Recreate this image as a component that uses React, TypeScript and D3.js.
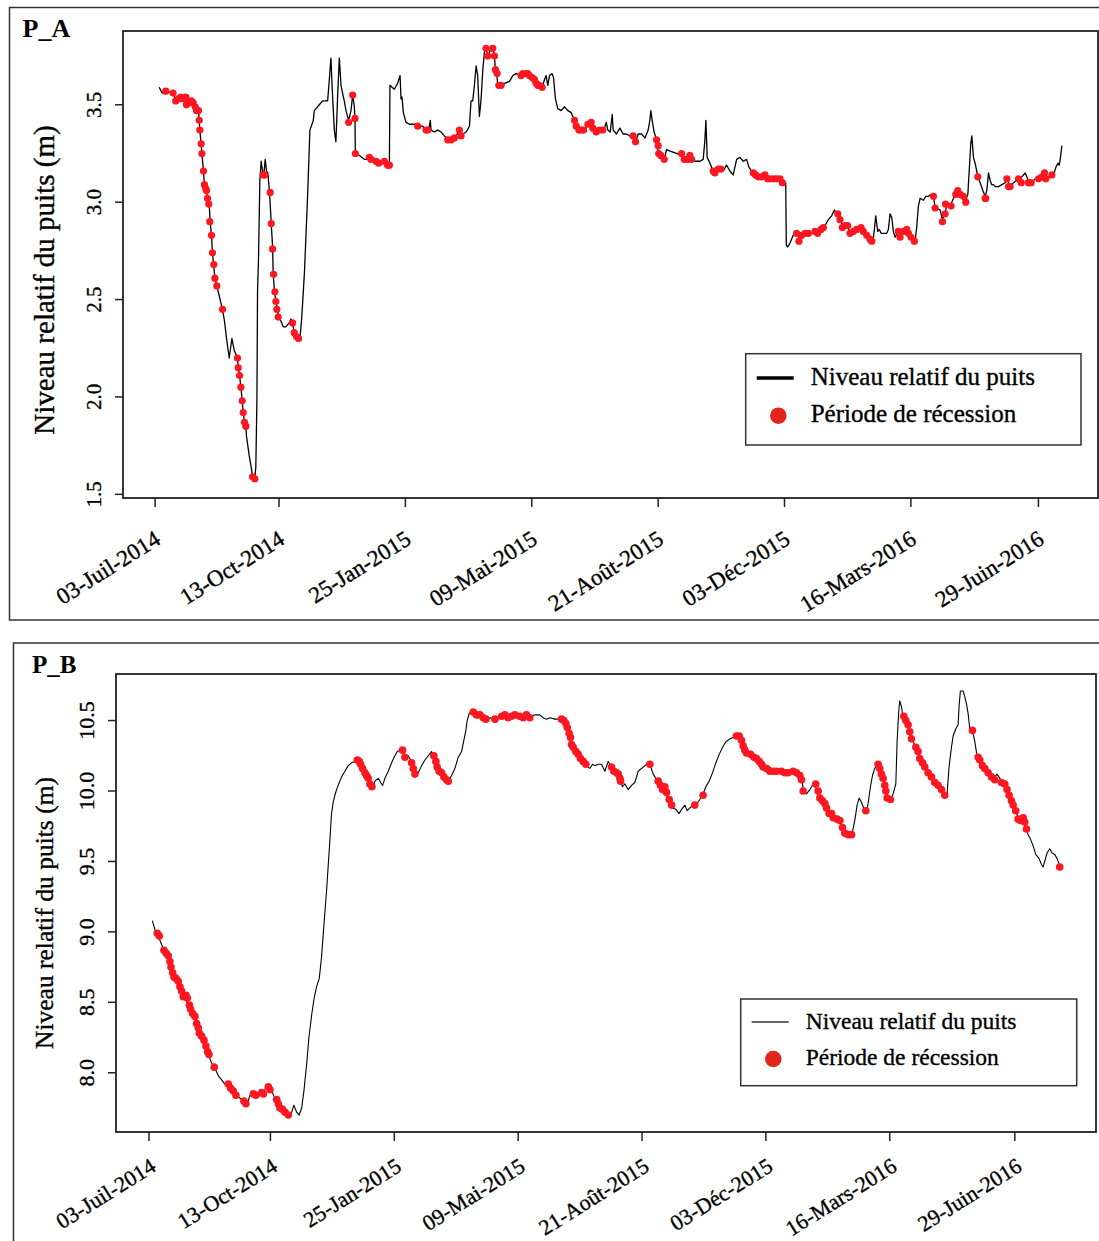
import React, { useRef, useEffect } from 'react';
import * as d3 from 'd3';

// [jours depuis le 03-Juil-2014, niveau relatif (m)]
type Pt = [number, number];

const startDate = '2014-07-03';

const tickDates = [
  '2014-07-03', '2014-10-13', '2015-01-25', '2015-05-09',
  '2015-08-21', '2015-12-03', '2016-03-16', '2016-06-29',
];
const tickLabels = [
  '03-Juil-2014', '13-Oct-2014', '25-Jan-2015', '09-Mai-2015',
  '21-Août-2015', '03-Déc-2015', '16-Mars-2016', '29-Juin-2016',
];
const legendLabels = ['Niveau relatif du puits', 'Période de récession'];
const yAxisTitle = 'Niveau relatif du puits (m)';

// P_A : niveau du puits
const levelA: Pt[] = [
  [3.3, 3.59], [6.0, 3.56], [8.8, 3.57], [14.3, 3.56], [17.0, 3.53], [21.1, 3.54], [25.3, 3.53], [28.0, 3.52],
  [30.8, 3.51], [33.5, 3.48], [35.7, 3.47], [36.3, 3.42], [36.8, 3.37], [37.9, 3.30], [38.5, 3.25], [39.8, 3.16],
  [40.6, 3.09], [42.3, 3.06], [43.1, 3.02], [44.5, 2.99], [45.3, 2.90], [46.4, 2.83], [47.2, 2.74], [48.3, 2.67],
  [49.2, 2.61], [50.8, 2.57], [52.7, 2.52], [55.5, 2.45], [57.1, 2.39], [58.8, 2.30], [61.0, 2.20], [63.2, 2.30],
  [65.1, 2.24], [67.8, 2.20], [68.4, 2.15], [69.5, 2.11], [70.6, 2.05], [71.7, 1.98], [72.5, 1.92], [73.6, 1.87],
  [74.7, 1.85], [75.2, 1.80], [77.4, 1.70], [79.1, 1.64], [80.2, 1.59], [81.8, 1.57], [82.9, 1.64], [83.8, 1.99],
  [84.3, 2.54], [85.1, 2.71], [86.2, 3.11], [87.3, 3.21], [88.4, 3.16], [89.5, 3.14], [90.6, 3.22], [91.7, 3.16],
  [92.8, 3.15], [94.2, 3.05], [95.6, 2.89], [96.7, 2.77], [97.2, 2.63], [98.3, 2.54], [99.4, 2.49], [100.8, 2.45],
  [101.6, 2.41], [103.5, 2.39], [105.5, 2.36], [107.6, 2.36], [110.4, 2.38], [111.8, 2.40], [113.1, 2.38], [114.5, 2.33],
  [115.9, 2.32], [118.1, 2.30], [119.2, 2.30], [120.6, 2.40], [121.7, 2.51], [123.0, 2.65], [124.1, 2.82], [125.5, 3.03],
  [127.4, 3.37], [129.1, 3.40], [130.2, 3.42], [131.0, 3.47], [132.4, 3.48], [135.1, 3.50], [137.9, 3.52], [142.0, 3.52],
  [143.4, 3.63], [144.7, 3.74], [146.1, 3.54], [147.5, 3.37], [148.8, 3.31], [150.2, 3.54], [151.6, 3.74], [153.0, 3.60],
  [154.3, 3.56], [155.7, 3.52], [157.1, 3.47], [159.3, 3.42], [161.2, 3.47], [162.6, 3.55], [164.0, 3.49], [164.5, 3.43],
  [164.8, 3.25], [168.1, 3.24], [172.2, 3.22], [176.9, 3.22], [181.8, 3.21], [187.3, 3.20], [190.6, 3.19], [192.8, 3.19],
  [193.3, 3.60], [195.0, 3.59], [196.9, 3.58], [199.6, 3.61], [201.6, 3.65], [202.4, 3.53], [203.2, 3.54], [204.3, 3.46],
  [206.5, 3.41], [209.3, 3.40], [212.0, 3.40], [214.7, 3.40], [216.9, 3.39], [220.2, 3.39], [223.0, 3.37], [225.2, 3.37],
  [226.5, 3.42], [227.1, 3.37], [229.8, 3.36], [232.6, 3.37], [235.3, 3.36], [238.1, 3.34], [241.7, 3.32], [245.0, 3.33],
  [247.7, 3.34], [250.4, 3.37], [253.2, 3.35], [255.9, 3.36], [258.7, 3.39], [260.0, 3.52], [261.4, 3.52], [262.8, 3.60],
  [264.2, 3.70], [265.5, 3.65], [266.9, 3.44], [268.3, 3.53], [269.7, 3.68], [271.0, 3.77], [272.4, 3.79], [273.8, 3.75],
  [275.2, 3.77], [276.5, 3.79], [277.9, 3.79], [279.3, 3.75], [280.1, 3.67], [281.2, 3.66], [282.0, 3.60], [284.8, 3.60],
  [287.5, 3.61], [291.6, 3.62], [294.4, 3.65], [297.1, 3.66], [301.2, 3.65], [305.4, 3.66], [309.5, 3.64], [313.6, 3.61],
  [317.7, 3.59], [319.1, 3.60], [320.5, 3.63], [321.8, 3.65], [323.2, 3.60], [324.6, 3.65], [326.8, 3.66], [327.9, 3.64],
  [329.5, 3.53], [331.4, 3.48], [334.2, 3.47], [336.9, 3.49], [339.7, 3.47], [342.4, 3.46], [345.2, 3.42], [347.9, 3.39],
  [350.7, 3.37], [353.4, 3.38], [357.5, 3.40], [360.3, 3.39], [363.0, 3.36], [365.8, 3.37], [369.9, 3.38], [371.3, 3.41],
  [372.6, 3.37], [374.6, 3.36], [376.2, 3.45], [377.0, 3.37], [379.7, 3.35], [382.5, 3.38], [385.2, 3.35], [388.0, 3.35],
  [390.7, 3.34], [393.4, 3.33], [395.4, 3.31], [397.6, 3.35], [400.3, 3.35], [403.1, 3.33], [405.8, 3.37], [407.2, 3.42],
  [408.0, 3.47], [409.1, 3.42], [410.7, 3.36], [412.7, 3.32], [414.0, 3.26], [416.8, 3.24], [419.0, 3.22], [420.9, 3.27],
  [425.0, 3.26], [429.1, 3.25], [433.3, 3.24], [437.4, 3.22], [441.0, 3.22], [444.2, 3.21], [448.4, 3.21], [451.1, 3.22],
  [452.5, 3.32], [453.3, 3.42], [454.4, 3.23], [456.6, 3.20], [459.3, 3.16], [462.1, 3.16], [464.8, 3.17], [467.6, 3.16],
  [470.3, 3.19], [473.1, 3.16], [475.8, 3.14], [478.6, 3.22], [481.3, 3.23], [484.1, 3.21], [486.8, 3.22], [488.7, 3.18],
  [490.9, 3.16], [493.7, 3.14], [496.4, 3.13], [499.2, 3.13], [501.9, 3.14], [504.6, 3.12], [508.8, 3.12], [512.9, 3.12],
  [516.2, 3.11], [519.0, 3.10], [519.5, 2.78], [520.6, 2.77], [522.5, 2.79], [525.2, 2.83], [528.0, 2.84], [530.7, 2.81],
  [533.5, 2.84], [536.2, 2.84], [540.4, 2.84], [543.6, 2.85], [545.8, 2.86], [548.6, 2.87], [551.3, 2.88], [554.1, 2.91],
  [556.8, 2.93], [559.0, 2.96], [560.9, 2.94], [563.7, 2.91], [566.4, 2.87], [570.0, 2.88], [571.9, 2.84], [574.7, 2.85],
  [578.2, 2.86], [581.5, 2.87], [584.3, 2.85], [587.0, 2.82], [589.8, 2.80], [591.2, 2.82], [592.0, 2.86], [593.1, 2.93],
  [594.7, 2.85], [596.1, 2.86], [597.5, 2.84], [599.4, 2.84], [602.1, 2.84], [603.5, 2.86], [604.9, 2.94], [606.3, 2.92],
  [607.6, 2.85], [609.0, 2.82], [611.7, 2.85], [614.5, 2.84], [617.2, 2.86], [620.0, 2.84], [622.7, 2.82], [625.5, 2.80],
  [626.8, 2.87], [628.2, 2.98], [629.6, 3.02], [632.3, 3.01], [634.3, 3.03], [636.5, 3.03], [638.7, 3.04], [640.6, 3.03],
  [642.0, 2.97], [643.3, 2.97], [646.1, 2.96], [648.0, 2.91], [650.2, 2.95], [651.6, 2.98], [654.3, 2.98], [657.1, 3.02],
  [659.8, 3.05], [662.6, 3.04], [665.3, 3.03], [667.2, 3.01], [668.9, 3.04], [670.0, 3.16], [671.3, 3.30], [672.2, 3.34],
  [673.5, 3.23], [674.9, 3.20], [677.1, 3.13], [679.0, 3.10], [681.2, 3.06], [683.1, 3.03], [684.5, 3.06], [685.9, 3.15],
  [687.3, 3.11], [688.6, 3.09], [690.0, 3.09], [691.4, 3.08], [694.1, 3.08], [696.9, 3.09], [699.6, 3.10], [701.0, 3.12],
  [703.7, 3.08], [706.5, 3.10], [710.6, 3.12], [713.3, 3.13], [716.1, 3.15], [718.8, 3.11], [721.6, 3.10], [724.3, 3.12],
  [727.1, 3.13], [729.8, 3.12], [732.0, 3.15], [733.9, 3.13], [736.7, 3.13], [739.4, 3.14], [741.4, 3.18], [743.0, 3.20],
  [744.1, 3.19], [744.9, 3.22], [746.3, 3.29],
];

// P_A : jours en récession
const recessionA: Pt[] = [
  [8.8, 3.57], [14.8, 3.56], [17.0, 3.52], [19.2, 3.53], [21.1, 3.54], [23.1, 3.53], [25.3, 3.54], [25.8, 3.50],
  [28.0, 3.51], [29.9, 3.52], [31.3, 3.51], [33.0, 3.49], [34.1, 3.47], [35.7, 3.47], [36.3, 3.42], [36.8, 3.37],
  [37.9, 3.30], [38.5, 3.25], [39.8, 3.16], [40.6, 3.09], [41.7, 3.07], [42.3, 3.06], [43.1, 3.02], [44.2, 2.99],
  [45.0, 2.90], [46.4, 2.83], [47.2, 2.74], [48.3, 2.68], [49.2, 2.61], [50.8, 2.57], [55.5, 2.45], [67.8, 2.20],
  [68.4, 2.15], [69.5, 2.11], [70.6, 2.05], [71.7, 1.98], [72.5, 1.92], [73.6, 1.87], [74.7, 1.85], [80.2, 1.59],
  [82.1, 1.58], [89.0, 3.14], [90.1, 3.14], [94.7, 3.05], [95.6, 2.89], [96.7, 2.76], [97.5, 2.63], [98.6, 2.54],
  [99.4, 2.49], [100.2, 2.45], [101.3, 2.41], [113.1, 2.38], [114.5, 2.33], [116.4, 2.31], [118.1, 2.30], [159.3, 3.41],
  [162.6, 3.55], [164.5, 3.43], [164.8, 3.25], [176.3, 3.23], [177.7, 3.22], [181.8, 3.21], [184.0, 3.20], [188.7, 3.21],
  [191.4, 3.19], [192.8, 3.19], [216.1, 3.39], [223.0, 3.37], [224.4, 3.37], [240.8, 3.32], [243.6, 3.32], [246.3, 3.33],
  [250.4, 3.37], [251.8, 3.34], [272.4, 3.79], [273.8, 3.75], [277.9, 3.79], [279.3, 3.75], [280.1, 3.68], [281.5, 3.66],
  [282.9, 3.60], [284.8, 3.60], [301.2, 3.65], [302.6, 3.66], [305.4, 3.66], [306.7, 3.66], [308.1, 3.65], [310.3, 3.64],
  [312.2, 3.63], [313.6, 3.61], [315.0, 3.60], [316.3, 3.60], [318.5, 3.59], [345.2, 3.42], [346.6, 3.39], [348.8, 3.37],
  [350.7, 3.37], [352.6, 3.37], [356.2, 3.40], [358.9, 3.41], [360.3, 3.38], [363.0, 3.36], [365.8, 3.37], [368.5, 3.37],
  [393.4, 3.34], [395.4, 3.31], [412.7, 3.32], [414.0, 3.29], [414.5, 3.25], [416.2, 3.24], [419.0, 3.22], [433.3, 3.25],
  [435.5, 3.22], [438.2, 3.22], [440.1, 3.24], [441.5, 3.22], [459.3, 3.16], [460.7, 3.15], [463.5, 3.17], [465.7, 3.17],
  [492.3, 3.15], [494.2, 3.14], [496.4, 3.13], [499.2, 3.13], [501.9, 3.14], [504.1, 3.12], [506.0, 3.12], [508.8, 3.12],
  [511.5, 3.12], [514.3, 3.12], [516.2, 3.10], [528.0, 2.84], [529.9, 2.80], [532.1, 2.83], [534.9, 2.84], [537.6, 2.84],
  [543.1, 2.85], [545.3, 2.84], [548.0, 2.86], [550.0, 2.87], [561.8, 2.94], [563.7, 2.91], [565.6, 2.87], [567.8, 2.88],
  [570.0, 2.88], [571.9, 2.84], [574.7, 2.85], [577.4, 2.86], [581.0, 2.87], [582.9, 2.85], [585.7, 2.83], [588.4, 2.81],
  [589.8, 2.80], [611.7, 2.85], [613.1, 2.82], [615.9, 2.85], [618.6, 2.86], [620.0, 2.84], [622.2, 2.82], [624.9, 2.80],
  [640.6, 3.03], [642.0, 2.97], [648.0, 2.90], [650.2, 2.94], [650.5, 2.99], [655.1, 2.98], [659.0, 3.04], [660.6, 3.06],
  [662.6, 3.04], [665.3, 3.03], [667.2, 3.00], [677.1, 3.13], [683.1, 3.02], [683.7, 3.02], [701.0, 3.12], [702.4, 3.08],
  [703.7, 3.08], [710.6, 3.12], [712.8, 3.10], [718.8, 3.10], [721.0, 3.10], [727.1, 3.12], [729.8, 3.13], [732.0, 3.15],
  [733.1, 3.12], [738.0, 3.14],
];

// P_B : niveau du puits
const levelB: Pt[] = [
  [2.8, 9.08], [5.6, 9.00], [7.8, 8.97], [10.6, 8.91], [13.4, 8.86], [16.2, 8.82], [19.0, 8.74], [21.8, 8.68],
  [24.6, 8.65], [27.4, 8.59], [30.2, 8.54], [33.0, 8.48], [35.8, 8.42], [38.6, 8.38], [41.4, 8.30], [44.2, 8.26],
  [47.0, 8.20], [49.8, 8.13], [52.6, 8.07], [55.4, 8.03], [58.2, 7.98], [61.0, 7.95], [63.8, 7.92], [66.6, 7.91],
  [69.4, 7.88], [72.2, 7.85], [75.0, 7.83], [77.8, 7.81], [80.6, 7.78], [82.5, 7.78], [84.8, 7.84], [87.6, 7.85],
  [90.4, 7.84], [93.2, 7.87], [96.0, 7.85], [98.2, 7.90], [100.2, 7.91], [103.0, 7.87], [105.8, 7.82], [108.6, 7.78],
  [111.4, 7.75], [114.2, 7.72], [117.0, 7.70], [119.8, 7.72], [121.7, 7.77], [124.0, 7.72], [126.2, 7.70], [128.2, 7.75],
  [130.1, 7.87], [132.4, 8.06], [134.3, 8.25], [136.6, 8.41], [138.5, 8.52], [140.7, 8.61], [143.0, 8.67], [144.9, 8.82],
  [146.9, 9.05], [149.1, 9.29], [150.5, 9.47], [151.9, 9.65], [153.3, 9.84], [154.7, 9.92], [156.1, 9.97], [157.5, 10.01],
  [159.8, 10.06], [161.7, 10.10], [164.5, 10.14], [167.3, 10.18], [170.1, 10.20], [172.9, 10.21], [175.7, 10.22], [177.7, 10.19],
  [179.9, 10.16], [182.2, 10.12], [184.1, 10.09], [186.1, 10.05], [188.3, 10.03], [189.7, 10.07], [192.5, 10.09], [194.5, 10.06],
  [196.2, 10.04], [198.1, 10.09], [200.9, 10.14], [203.7, 10.20], [206.5, 10.25], [208.5, 10.28], [210.7, 10.29], [213.5, 10.28],
  [214.9, 10.24], [217.7, 10.25], [220.5, 10.21], [222.5, 10.16], [224.2, 10.12], [226.1, 10.13], [228.9, 10.18], [231.7, 10.22],
  [234.5, 10.25], [237.3, 10.28], [239.3, 10.25], [241.5, 10.19], [243.7, 10.14], [245.7, 10.12], [248.5, 10.09], [251.3, 10.07],
  [254.1, 10.11], [256.9, 10.16], [259.7, 10.24], [262.5, 10.28], [264.4, 10.36], [266.1, 10.43], [267.2, 10.50], [268.9, 10.55],
  [272.3, 10.57], [275.1, 10.54], [277.9, 10.54], [280.7, 10.52], [283.5, 10.51], [286.3, 10.52], [290.5, 10.51], [294.7, 10.53],
  [298.9, 10.54], [303.1, 10.52], [307.3, 10.54], [311.5, 10.53], [315.6, 10.54], [319.8, 10.53], [324.0, 10.54], [328.2, 10.54],
  [331.0, 10.52], [333.8, 10.51], [336.6, 10.52], [340.8, 10.51], [345.0, 10.51], [347.8, 10.50], [350.6, 10.47], [352.9, 10.41],
  [354.8, 10.33], [356.8, 10.30], [359.0, 10.28], [361.8, 10.24], [364.6, 10.21], [367.4, 10.18], [370.2, 10.16], [372.5, 10.19],
  [374.4, 10.18], [377.2, 10.19], [380.0, 10.19], [382.8, 10.14], [385.6, 10.21], [388.4, 10.17], [391.2, 10.14], [394.0, 10.12],
  [396.0, 10.07], [397.6, 10.03], [399.6, 10.05], [402.4, 10.01], [405.2, 10.04], [408.0, 10.06], [410.8, 10.14], [413.6, 10.16],
  [416.4, 10.18], [419.2, 10.20], [420.6, 10.19], [423.4, 10.12], [425.6, 10.09], [428.4, 10.07], [430.4, 10.04], [432.3, 10.00],
  [434.6, 9.97], [437.4, 9.91], [439.6, 9.88], [442.4, 9.87], [445.2, 9.84], [447.2, 9.87], [450.0, 9.90], [451.9, 9.86],
  [454.1, 9.88], [456.9, 9.90], [459.2, 9.90], [462.5, 9.94], [464.8, 9.97], [467.6, 10.03], [470.4, 10.07], [473.2, 10.13],
  [476.0, 10.20], [478.8, 10.26], [481.6, 10.31], [484.4, 10.35], [487.7, 10.37], [490.5, 10.38], [493.3, 10.39], [495.6, 10.38],
  [497.5, 10.36], [498.9, 10.32], [501.2, 10.28], [503.1, 10.26], [505.9, 10.26], [508.7, 10.24], [511.5, 10.23], [514.3, 10.20],
  [515.7, 10.17], [518.5, 10.16], [521.3, 10.17], [524.1, 10.14], [526.9, 10.13], [529.7, 10.14], [532.5, 10.14], [535.3, 10.13],
  [538.1, 10.12], [540.9, 10.14], [543.7, 10.13], [546.5, 10.11], [548.7, 10.05], [549.8, 9.99], [552.1, 9.98], [554.9, 10.01],
  [557.7, 10.05], [559.9, 10.03], [561.9, 9.97], [563.8, 9.94], [566.1, 9.92], [568.9, 9.88], [571.7, 9.84], [574.5, 9.82],
  [577.3, 9.80], [580.1, 9.79], [582.3, 9.74], [584.3, 9.70], [587.9, 9.69], [590.7, 9.71], [592.6, 9.79], [594.6, 9.90],
  [596.3, 9.95], [598.2, 9.92], [601.0, 9.86], [602.4, 9.85], [603.8, 9.91], [605.8, 10.03], [607.5, 10.11], [609.4, 10.16],
  [612.2, 10.19], [614.2, 10.16], [616.4, 10.10], [618.7, 10.03], [620.6, 9.95], [623.4, 9.94], [624.8, 9.98], [627.1, 10.05],
  [628.2, 10.36], [629.6, 10.57], [630.4, 10.64], [631.8, 10.60], [633.2, 10.52], [635.5, 10.50], [637.4, 10.45], [639.4, 10.38],
  [641.6, 10.35], [643.0, 10.33], [645.0, 10.30], [647.2, 10.25], [649.5, 10.20], [651.4, 10.17], [654.2, 10.13], [657.0, 10.11],
  [659.8, 10.07], [662.6, 10.04], [665.4, 10.00], [668.2, 9.97], [670.2, 9.99], [671.8, 10.17], [673.8, 10.31], [675.2, 10.39],
  [677.4, 10.44], [679.4, 10.47], [680.2, 10.60], [681.3, 10.71], [683.6, 10.71], [685.0, 10.67], [686.4, 10.62], [687.8, 10.55],
  [689.2, 10.44], [691.4, 10.43], [693.4, 10.35], [695.3, 10.25], [697.6, 10.23], [699.8, 10.19], [701.8, 10.16], [704.6, 10.13],
  [707.4, 10.11], [710.2, 10.10], [712.1, 10.12], [714.4, 10.09], [717.2, 10.06], [719.4, 10.05], [721.4, 10.00], [723.3, 9.95],
  [725.6, 9.91], [727.8, 9.86], [729.8, 9.81], [731.7, 9.79], [734.0, 9.81], [736.2, 9.74], [738.2, 9.69], [740.1, 9.66],
  [742.4, 9.61], [744.6, 9.55], [747.4, 9.52], [749.3, 9.48], [750.7, 9.46], [752.1, 9.50], [754.1, 9.56], [756.3, 9.59],
  [758.3, 9.56], [760.5, 9.55], [762.5, 9.52], [764.7, 9.47],
];

// P_B : jours en récession
const recessionB: Pt[] = [
  [7.0, 8.99], [8.7, 8.97], [12.6, 8.87], [14.3, 8.85], [16.2, 8.83], [17.6, 8.79], [18.5, 8.75], [19.9, 8.71],
  [21.0, 8.68], [22.7, 8.67], [24.6, 8.65], [26.0, 8.61], [27.4, 8.58], [28.8, 8.54], [31.1, 8.55], [32.2, 8.53],
  [33.9, 8.48], [35.0, 8.45], [36.7, 8.42], [38.6, 8.40], [40.0, 8.35], [41.4, 8.32], [42.3, 8.28], [44.2, 8.26],
  [46.2, 8.23], [47.8, 8.19], [49.2, 8.15], [50.4, 8.13], [54.8, 8.04], [66.6, 7.92], [68.6, 7.89], [70.8, 7.87],
  [73.0, 7.84], [79.7, 7.80], [81.4, 7.78], [87.6, 7.85], [89.8, 7.84], [94.6, 7.86], [96.0, 7.85], [100.2, 7.90],
  [101.6, 7.88], [107.2, 7.81], [108.6, 7.78], [110.0, 7.75], [112.2, 7.74], [114.2, 7.72], [117.0, 7.70],
  [174.9, 10.22], [176.6, 10.21], [177.7, 10.19], [179.4, 10.16], [181.3, 10.13], [182.7, 10.11], [184.1, 10.09], [185.5, 10.05],
  [187.2, 10.03], [212.9, 10.29], [214.9, 10.24], [220.5, 10.20], [221.9, 10.16], [223.3, 10.12], [239.2, 10.25], [240.9, 10.21],
  [242.0, 10.17], [243.7, 10.14], [245.7, 10.13], [247.6, 10.10], [249.9, 10.08], [251.3, 10.07], [272.3, 10.56], [275.1, 10.54],
  [277.9, 10.54], [280.7, 10.52], [282.9, 10.51], [290.5, 10.51], [296.1, 10.53], [298.9, 10.54], [301.6, 10.52], [304.4, 10.53],
  [307.2, 10.54], [311.4, 10.53], [314.2, 10.52], [317.0, 10.54], [319.8, 10.52], [346.4, 10.51], [348.4, 10.50], [350.0, 10.48],
  [351.2, 10.45], [352.8, 10.41], [354.0, 10.38], [354.8, 10.33], [356.2, 10.31], [358.4, 10.28], [360.4, 10.26], [362.3, 10.23],
  [364.6, 10.21], [366.8, 10.19], [388.4, 10.17], [390.4, 10.14], [392.6, 10.13], [394.0, 10.12], [395.4, 10.09], [396.0, 10.07],
  [420.6, 10.19], [427.6, 10.07], [429.5, 10.04], [431.2, 10.01], [433.2, 10.03], [434.6, 9.99], [436.8, 9.94], [438.8, 9.90],
  [458.3, 9.90], [465.3, 9.97], [493.3, 10.39], [495.6, 10.39], [497.5, 10.36], [498.9, 10.32], [500.3, 10.29], [501.7, 10.27],
  [505.1, 10.26], [507.9, 10.24], [510.1, 10.23], [512.4, 10.21], [514.3, 10.19], [515.7, 10.17], [518.5, 10.16], [521.3, 10.14],
  [524.1, 10.14], [526.9, 10.14], [531.1, 10.14], [533.9, 10.13], [536.7, 10.13], [540.9, 10.14], [543.7, 10.13], [546.5, 10.11],
  [547.9, 10.08], [549.3, 10.00], [559.9, 10.05], [561.9, 10.00], [563.3, 9.95], [565.5, 9.93], [567.5, 9.91], [568.9, 9.88],
  [571.1, 9.84], [573.1, 9.84], [574.5, 9.81], [577.8, 9.80], [580.1, 9.79], [582.3, 9.74], [584.3, 9.70], [587.1, 9.69],
  [589.9, 9.69], [601.9, 9.86], [612.2, 10.19], [613.6, 10.16], [615.0, 10.12], [616.4, 10.09], [617.8, 10.04], [618.7, 10.00],
  [619.8, 9.95], [622.6, 9.94], [633.8, 10.53], [635.5, 10.50], [637.4, 10.47], [638.8, 10.42], [640.2, 10.37], [643.9, 10.31],
  [645.8, 10.28], [647.2, 10.23], [649.5, 10.20], [651.4, 10.17], [654.2, 10.13], [657.0, 10.10], [659.8, 10.06], [662.6, 10.04],
  [665.4, 10.01], [668.2, 9.97], [691.4, 10.43], [696.2, 10.24], [697.6, 10.22], [699.8, 10.18], [701.8, 10.16], [704.6, 10.13],
  [707.4, 10.10], [710.2, 10.08], [715.8, 10.06], [718.6, 10.05], [720.5, 10.01], [722.2, 9.97], [724.2, 9.93], [725.6, 9.90],
  [727.8, 9.86], [729.8, 9.80], [731.7, 9.79], [734.0, 9.81], [735.4, 9.78], [736.8, 9.73], [764.7, 9.46],
];

type Box = { x: number; y: number; w: number; h: number };

type PanelConfig = {
  name: string;
  level: Pt[];
  recession: Pt[];
  frame: Box;
  plot: { left: number; right: number; top: number; bottom: number };
  namePos: [number, number];
  nameSize: number;
  titlePos: [number, number];
  titleSize: number;
  yTickSize: number;
  yTickX: number;
  xTickSize: number;
  xTickOffset: [number, number];
  lineWidth: number;
  dotR: number;
  legend: Box & { lineWidth: number; lineColor: string; textSize: number; row1: number; row2: number };
};

const FONT = '"Liberation Serif", "Times New Roman", Times, serif';
const DOT = '#fe1621';
const LEGEND_DOT = '#e3261b';
const TEXT_STROKE = 0.35; // the reference text is a touch heavier than Liberation Serif

const parseDay = d3.utcParse('%Y-%m-%d');
const origin = parseDay(startDate)!;
const dayToDate = (d: number) => new Date(origin.getTime() + d * 86400000);

const panels: PanelConfig[] = [
  {
    name: 'P_A',
    level: levelA,
    recession: recessionA,
    frame: { x: 9.5, y: 7.5, w: 1110, h: 612.5 },
    plot: { left: 123, right: 1098, top: 31, bottom: 498 },
    namePos: [22.5, 37],
    nameSize: 26,
    titlePos: [54, 280],
    titleSize: 29,
    yTickSize: 21,
    yTickX: 101,
    xTickSize: 23,
    xTickOffset: [7, 45],
    lineWidth: 1.3,
    dotR: 3.6,
    legend: { x: 745.7, y: 353.7, w: 335.3, h: 91.3, lineWidth: 3.3, lineColor: '#000', textSize: 25, row1: 31.3, row2: 68 },
  },
  {
    name: 'P_B',
    level: levelB,
    recession: recessionB,
    frame: { x: 13.5, y: 643, w: 1110, h: 700 },
    plot: { left: 116, right: 1096, top: 674, bottom: 1132 },
    namePos: [32, 673],
    nameSize: 25,
    titlePos: [53, 913],
    titleSize: 25.5,
    yTickSize: 22,
    yTickX: 94,
    xTickSize: 22,
    xTickOffset: [8.5, 38],
    lineWidth: 1.1,
    dotR: 3.8,
    legend: { x: 740.7, y: 999, w: 336, h: 86.7, lineWidth: 1.3, lineColor: '#333', textSize: 23.5, row1: 30, row2: 66 },
  },
];

function drawPanel(svg: d3.Selection<SVGSVGElement, unknown, null, undefined>, p: PanelConfig) {
  const g = svg.append('g').attr('font-family', FONT).attr('fill', '#000');

  // outer frame of the figure panel
  g.append('rect')
    .attr('x', p.frame.x)
    .attr('y', p.frame.y)
    .attr('width', p.frame.w)
    .attr('height', p.frame.h)
    .attr('fill', 'none')
    .attr('stroke', '#333')
    .attr('stroke-width', 1.5);

  g.append('text')
    .attr('x', p.namePos[0])
    .attr('y', p.namePos[1])
    .attr('font-size', p.nameSize)
    .attr('font-weight', 'bold')
    .text(p.name);

  // R-like limits: data range widened by 4 %
  const [d0, d1] = d3.extent(p.level, (d) => d[0]) as [number, number];
  const [v0, v1] = d3.extent([...p.level, ...p.recession], (d) => d[1]) as [number, number];
  const padD = (d1 - d0) * 0.04;
  const padV = (v1 - v0) * 0.04;

  const x = d3
    .scaleUtc()
    .domain([dayToDate(d0 - padD), dayToDate(d1 + padD)])
    .range([p.plot.left, p.plot.right]);
  const y = d3
    .scaleLinear()
    .domain([v0 - padV, v1 + padV])
    .range([p.plot.bottom, p.plot.top]);

  const line = d3
    .line<Pt>()
    .x((d) => x(dayToDate(d[0])))
    .y((d) => y(d[1]));

  g.append('path')
    .datum(p.level)
    .attr('d', line)
    .attr('fill', 'none')
    .attr('stroke', '#000')
    .attr('stroke-width', p.lineWidth)
    .attr('stroke-linejoin', 'round');

  g.append('g')
    .selectAll('circle')
    .data(p.recession)
    .join('circle')
    .attr('cx', (d) => x(dayToDate(d[0])))
    .attr('cy', (d) => y(d[1]))
    .attr('r', p.dotR)
    .attr('fill', DOT);

  // plot box
  g.append('rect')
    .attr('x', p.plot.left)
    .attr('y', p.plot.top)
    .attr('width', p.plot.right - p.plot.left)
    .attr('height', p.plot.bottom - p.plot.top)
    .attr('fill', 'none')
    .attr('stroke', '#222')
    .attr('stroke-width', 1.8);

  const labels = g.append('g').attr('stroke', '#000').attr('stroke-width', TEXT_STROKE);

  // y axis
  const yTicks = y.ticks(5);
  const fmt = d3.format('.1f');
  g.append('g')
    .selectAll('line')
    .data(yTicks)
    .join('line')
    .attr('x1', p.plot.left - 8)
    .attr('x2', p.plot.left)
    .attr('y1', (d) => y(d))
    .attr('y2', (d) => y(d))
    .attr('stroke', '#222')
    .attr('stroke-width', 1.5);
  labels.append('g')
    .selectAll('text')
    .data(yTicks)
    .join('text')
    .attr('transform', (d) => `translate(${p.yTickX},${y(d)}) rotate(-90)`)
    .attr('text-anchor', 'middle')
    .attr('font-size', p.yTickSize)
    .text((d) => fmt(d));

  labels.append('text')
    .attr('transform', `translate(${p.titlePos[0]},${p.titlePos[1]}) rotate(-90)`)
    .attr('text-anchor', 'middle')
    .attr('font-size', p.titleSize)
    .text(yAxisTitle);

  // x axis, slanted date labels
  const xTicks = tickDates.map((s) => parseDay(s)!);
  g.append('g')
    .selectAll('line')
    .data(xTicks)
    .join('line')
    .attr('x1', (d) => x(d))
    .attr('x2', (d) => x(d))
    .attr('y1', p.plot.bottom)
    .attr('y2', p.plot.bottom + 9)
    .attr('stroke', '#222')
    .attr('stroke-width', 1.5);
  labels.append('g')
    .selectAll('text')
    .data(xTicks)
    .join('text')
    .attr('transform', (d) => `translate(${x(d) + p.xTickOffset[0]},${p.plot.bottom + p.xTickOffset[1]}) rotate(-32)`)
    .attr('text-anchor', 'end')
    .attr('font-size', p.xTickSize)
    .text((d, i) => tickLabels[i]);

  // legend
  const lg = p.legend;
  const leg = g.append('g').attr('transform', `translate(${lg.x},${lg.y})`);
  leg.append('rect')
    .attr('width', lg.w)
    .attr('height', lg.h)
    .attr('fill', '#fff')
    .attr('stroke', '#333')
    .attr('stroke-width', 1.5);
  leg.append('line')
    .attr('x1', 11)
    .attr('x2', 48)
    .attr('y1', lg.row1 - 7)
    .attr('y2', lg.row1 - 7)
    .attr('stroke', lg.lineColor)
    .attr('stroke-width', lg.lineWidth);
  leg.append('circle')
    .attr('cx', 32.6)
    .attr('cy', lg.row2 - 6)
    .attr('r', 8.3)
    .attr('fill', LEGEND_DOT);
  leg.selectAll('text.lab')
    .data(legendLabels)
    .join('text')
    .attr('class', 'lab')
    .attr('x', 65)
    .attr('y', (d, i) => (i === 0 ? lg.row1 : lg.row2))
    .attr('font-size', lg.textSize)
    .attr('stroke', '#000')
    .attr('stroke-width', TEXT_STROKE)
    .text((d) => d);
}

const App: React.FC = () => {
  const svgRef = useRef<SVGSVGElement | null>(null);

  useEffect(() => {
    if (!svgRef.current) return;
    const svg = d3.select(svgRef.current);
    svg.selectAll('*').remove();
    panels.forEach((p) => drawPanel(svg, p));
  }, []);

  return (
    <svg
      ref={svgRef}
      width={1099}
      height={1241}
      style={{ position: 'absolute', left: 0, top: 0, background: '#fff' }}
    />
  );
};

export default App;
